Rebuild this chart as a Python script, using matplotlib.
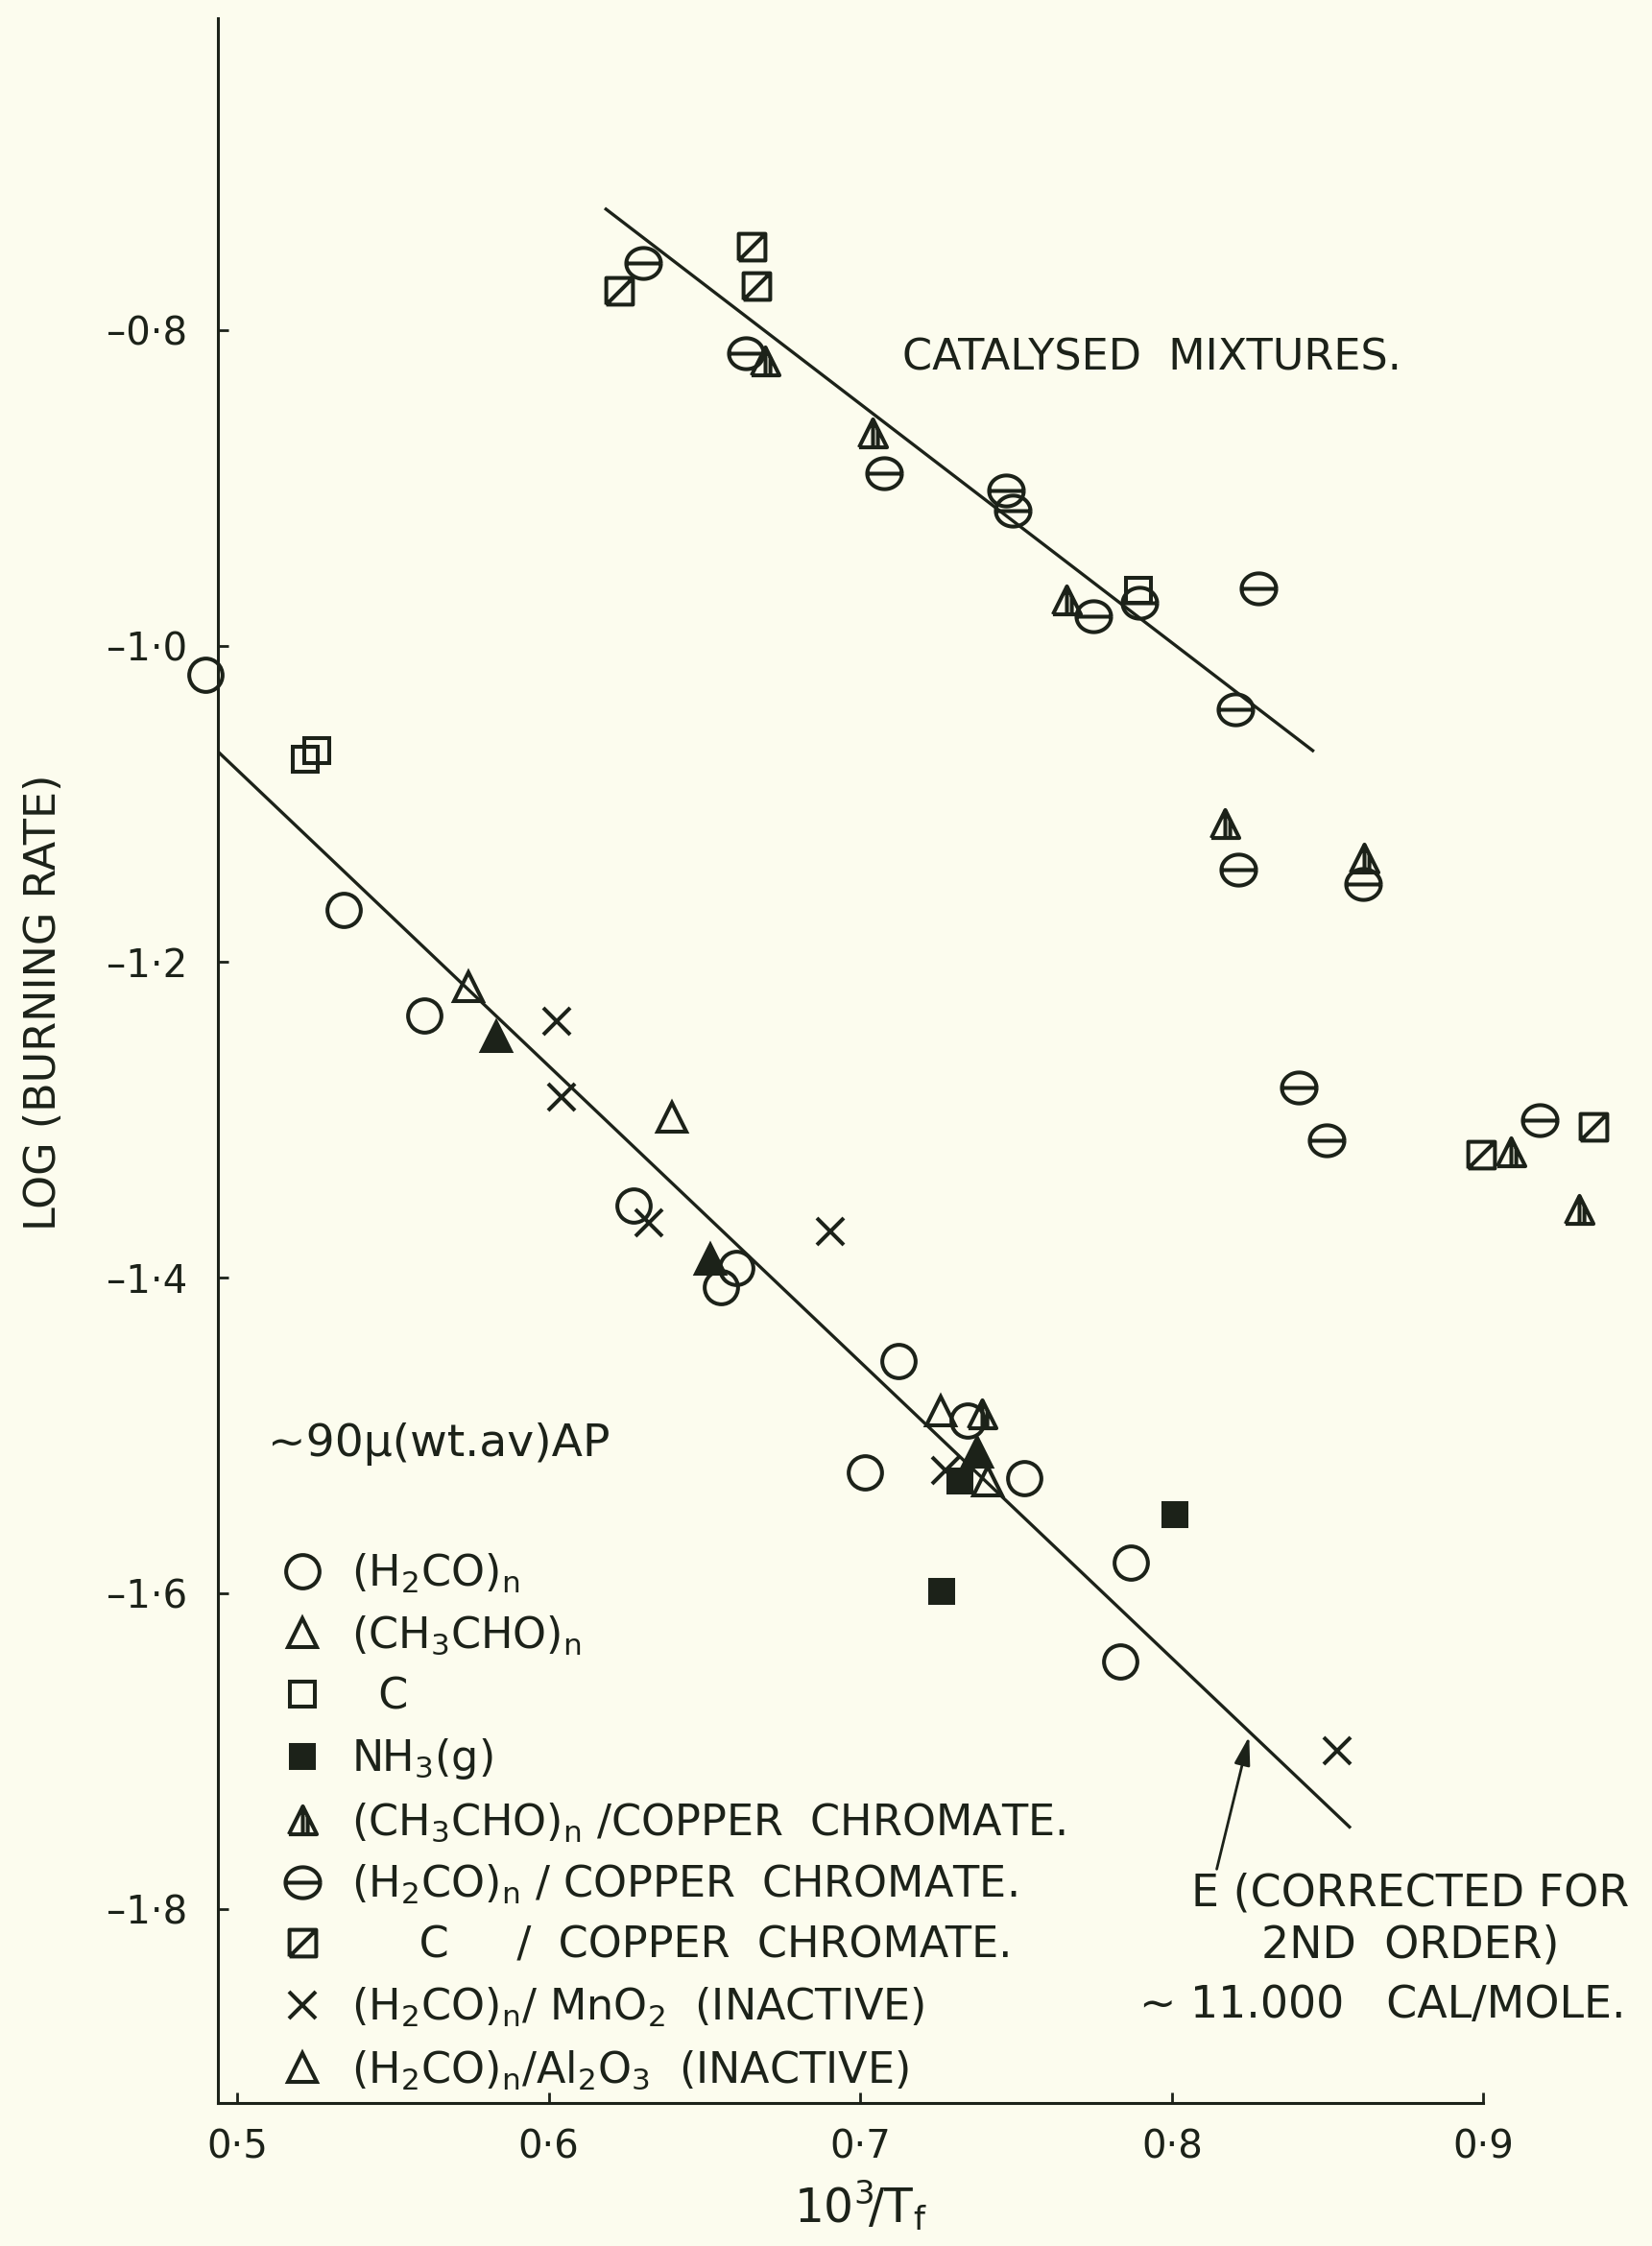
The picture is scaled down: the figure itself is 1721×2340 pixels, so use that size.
import matplotlib
matplotlib.use("Agg")
import matplotlib.pyplot as plt
import numpy as np
from matplotlib.path import Path

plt.rcParams["font.family"] = ["DejaVu Sans"]
plt.rcParams["mathtext.fontset"] = "dejavusans"
plt.rcParams["mathtext.default"] = "regular"

INK = "#1c2219"
PAPER = "#fcfcee"

# --- values ---
# uncatalysed
h2co_x = [0.4897, 0.5343, 0.5601, 0.6272, 0.6603, 0.6552, 0.7122, 0.7016, 0.7343, 0.7527, 0.7868, 0.7835]
h2co_y = [-1.018, -1.1668, -1.2339, -1.3546, -1.3936, -1.4063, -1.4526, -1.5234, -1.4908, -1.5271, -1.5806, -1.6433]
ch3cho_x = [0.5743, 0.6396]
ch3cho_y = [-1.2159, -1.2985]
carbon_x = [0.5219, 0.5256, 0.7893]
carbon_y = [-1.0715, -1.0661, -0.9646]
nh3_x = [0.7320, 0.7260, 0.8010]
nh3_y = [-1.5289, -1.5987, -1.5499]
solid_tri_x = [0.5833, 0.6519, 0.7375]
solid_tri_y = [-1.2474, -1.3886, -1.5107]
mno2_x = [0.6025, 0.6041, 0.6323, 0.6903, 0.7274, 0.8530]
mno2_y = [-1.2378, -1.2854, -1.3655, -1.3709, -1.5224, -1.6995]
al2o3_x = [0.7259, 0.7408]
al2o3_y = [-1.4844, -1.5291]

# catalysed (copper chromate)
ch3cho_cc_x = [0.6694, 0.7039, 0.7663, 0.8169, 0.8618, 0.9089, 0.9308, 0.7392]
ch3cho_cc_y = [-0.8191, -0.8646, -0.9704, -1.1125, -1.1344, -1.3205, -1.3569, -1.4862]
h2co_cc_x = [0.6302, 0.6632, 0.7075, 0.7469, 0.7490, 0.7747, 0.7897, 0.8277, 0.8203,
             0.8214, 0.8615, 0.8408, 0.8498, 0.9179]
h2co_cc_y = [-0.7575, -0.8145, -0.8902, -0.9016, -0.9138, -0.9809, -0.9727, -0.9634, -1.0402,
             -1.1416, -1.1504, -1.2798, -1.3132, -1.3002]
carbon_cc_x = [0.6226, 0.6650, 0.6667, 0.8994, 0.9353]
carbon_cc_y = [-0.7750, -0.7466, -0.7715, -1.3223, -1.3045]

# hand-drawn fit lines
fit_low_x = [0.494, 0.857]
fit_low_y = [-1.067, -1.748]
fit_cat_x = [0.6184, 0.8452]
fit_cat_y = [-0.7231, -1.0661]

xticks = [0.5, 0.6, 0.7, 0.8, 0.9]
xtick_labels = ["0·5", "0·6", "0·7", "0·8", "0·9"]
yticks = [-0.8, -1.0, -1.2, -1.4, -1.6, -1.8]
ytick_labels = ["–0·8", "–1·0", "–1·2", "–1·4", "–1·6", "–1·8"]

# custom marker shapes
t = np.linspace(0, 2 * np.pi, 80)
theta_mk = Path.make_compound_path(
    Path(np.column_stack([1.12 * np.cos(t), np.sin(t)])),
    Path([[-1.12, 0], [1.12, 0]]))
hatch_sq_mk = Path.make_compound_path(
    Path([[-1, -1], [1, -1], [1, 1], [-1, 1], [-1, -1]]),
    Path([[-1, -1], [1, 1]]))
half_tri_mk = Path.make_compound_path(
    Path([[-1, -1], [1, -1], [0, 1], [-1, -1]]),
    Path([[0, 1], [0, -1]]),
    Path([[0.35, 0.3], [0.35, -1]]))

fig = plt.figure(figsize=(17.21, 23.40), dpi=100, facecolor=PAPER)
ax = fig.add_axes([0.1318, 0.0638, 0.8605, 0.9279])
ax.set_facecolor(PAPER)

ax.plot(fit_low_x, fit_low_y, color=INK, lw=2.4)
ax.plot(fit_cat_x, fit_cat_y, color=INK, lw=2.4)

common = dict(linestyle="none", mec=INK, mew=2.9, clip_on=False)
h1, = ax.plot(h2co_x, h2co_y, marker="o", ms=25, mfc="none", **common)
h2, = ax.plot(ch3cho_x, ch3cho_y, marker="^", ms=21, mfc="none", **common)
h3, = ax.plot(carbon_x, carbon_y, marker="s", ms=19, mfc="none", **common)
h4, = ax.plot(nh3_x, nh3_y, marker="s", ms=17, mfc=INK, **common)
ax.plot(solid_tri_x, solid_tri_y, marker="^", ms=22, mfc=INK, **common)
h5, = ax.plot(ch3cho_cc_x, ch3cho_cc_y, marker=half_tri_mk, ms=21, mfc="none", **common)
h6, = ax.plot(h2co_cc_x, h2co_cc_y, marker=theta_mk, ms=26, mfc="none", **common)
h7, = ax.plot(carbon_cc_x, carbon_cc_y, marker=hatch_sq_mk, ms=20, mfc="none", **common)
h8, = ax.plot(mno2_x, mno2_y, marker="x", ms=20, mfc="none", **common)
h9, = ax.plot(al2o3_x, al2o3_y, marker="^", ms=21, mfc="none", **common)

ax.set_xlim(0.4938, 0.95)
ax.set_ylim(-1.9227, -0.6024)

for s in ["top", "right"]:
    ax.spines[s].set_visible(False)
for s in ["left", "bottom"]:
    ax.spines[s].set_color(INK)
    ax.spines[s].set_linewidth(2.2)
ax.spines["bottom"].set_bounds(0.4938, 0.9)

ax.set_xticks(xticks)
ax.set_xticklabels(xtick_labels)
ax.set_yticks(yticks)
ax.set_yticklabels(ytick_labels)
ax.tick_params(direction="in", length=8, width=2, colors=INK, labelsize=29)
ax.tick_params(axis="x", pad=19)
ax.tick_params(axis="y", pad=23)

ax.set_ylabel("LOG (BURNING RATE)", fontsize=32, color=INK)
ax.yaxis.set_label_coords(-0.108, 0.528)
ax.set_xlabel(r"$10^{3}\!/T_{f}$", fontsize=35, color=INK)
ax.xaxis.set_label_coords(0.452, -0.036)

ax.text(0.7136, -0.8174, "CATALYSED  MIXTURES.", fontsize=32, color=INK,
        ha="left", va="center")
ax.text(0.5100, -1.5055, "~90μ(wt.av)AP", fontsize=34, color=INK,
        ha="left", va="center")
ax.text(0.8764, -1.7902, "E (CORRECTED FOR", fontsize=33, color=INK, ha="center", va="center")
ax.text(0.8764, -1.8229, "2ND  ORDER)", fontsize=33, color=INK, ha="center", va="center")
ax.text(0.8677, -1.8610, "~ 11.000   CAL/MOLE.", fontsize=33, color=INK, ha="center", va="center")

ax.annotate("", xy=(0.8248, -1.6906), xytext=(0.8144, -1.7747),
            arrowprops=dict(arrowstyle="-|>,head_length=0.9,head_width=0.25",
                            lw=2, color=INK, shrinkA=0, shrinkB=0, mutation_scale=20))

labels = [
    r"(H$_2$CO)$_n$",
    r"(CH$_3$CHO)$_n$",
    "  C",
    r"NH$_3$(g)",
    r"(CH$_3$CHO)$_n$ /COPPER  CHROMATE.",
    r"(H$_2$CO)$_n$ / COPPER  CHROMATE.",
    "     C     /  COPPER  CHROMATE.",
    r"(H$_2$CO)$_n$/ MnO$_2$  (INACTIVE)",
    r"(H$_2$CO)$_n$/Al$_2$O$_3$  (INACTIVE)",
]
ax.legend([h1, h2, h3, h4, h5, h6, h7, h8, h9], labels, loc="upper left",
          bbox_to_anchor=(0.046, 0.2645), borderpad=0, borderaxespad=0,
          frameon=False, numpoints=1, handlelength=0.9, handletextpad=0.69,
          labelspacing=0.45, fontsize=32, labelcolor=INK)

fig.savefig("out.png", dpi=100, facecolor=PAPER)
